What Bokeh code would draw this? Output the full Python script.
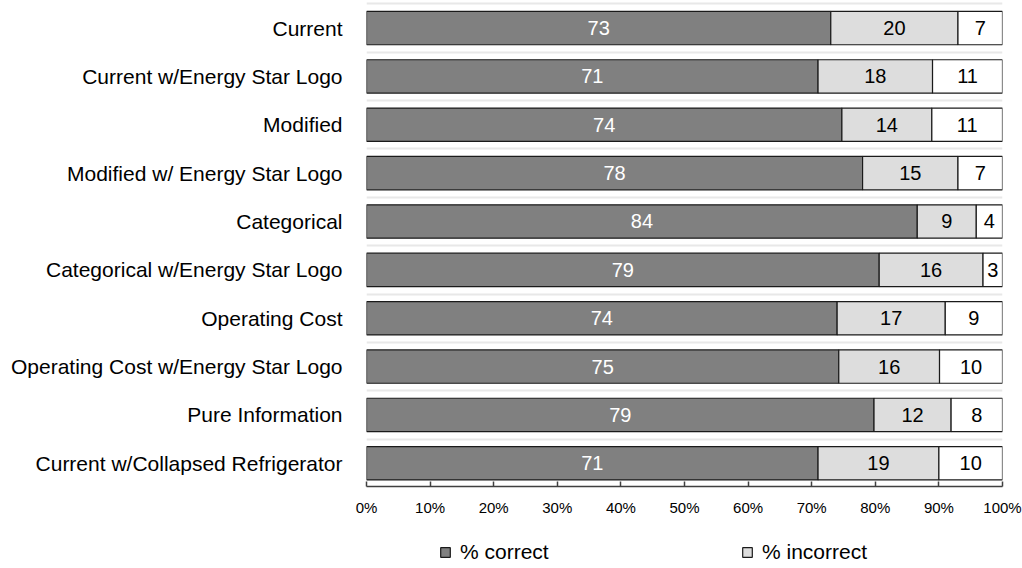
from bokeh.plotting import figure
from bokeh.layouts import column
from bokeh.models import (Range1d, FixedTicker, NumeralTickFormatter, Legend, LegendItem,
                          ColumnDataSource)
from bokeh.core.properties import value
from bokeh.embed import file_html
from bokeh.resources import INLINE

categories = [
    "Current",
    "Current w/Energy Star Logo",
    "Modified",
    "Modified w/ Energy Star Logo",
    "Categorical",
    "Categorical w/Energy Star Logo",
    "Operating Cost",
    "Operating Cost w/Energy Star Logo",
    "Pure Information",
    "Current w/Collapsed Refrigerator",
]
pct_correct = [73, 71, 74, 78, 84, 79, 74, 75, 79, 71]
pct_incorrect = [20, 18, 14, 15, 9, 16, 17, 16, 12, 19]
pct_other = [7, 11, 11, 7, 4, 3, 9, 10, 8, 10]
x_ticks = [i / 10 for i in range(11)]
legend_labels = ["% correct", "% incorrect"]

FONT = "Liberation Sans"
C_DARK, C_LIGHT, C_WHITE = "#808080", "#dddddd", "#ffffff"
EDGE = "#1a1a1a"

ys = list(range(len(categories)))
totals = [a + b + c for a, b, c in zip(pct_correct, pct_incorrect, pct_other)]
c_r = [a / t for a, t in zip(pct_correct, totals)]
i_r = [(a + b) / t for a, b, t in zip(pct_correct, pct_incorrect, totals)]
o_r = [1.0 for _ in totals]

src = ColumnDataSource(dict(
    y=ys, c_l=[0.0] * len(ys), c_r=c_r, i_l=c_r, i_r=i_r, o_l=i_r, o_r=o_r,
    c_mid=[r / 2 for r in c_r],
    i_mid=[(a + b) / 2 for a, b in zip(c_r, i_r)],
    o_mid=[(a + b) / 2 for a, b in zip(i_r, o_r)],
    c_txt=[str(v) for v in pct_correct],
    i_txt=[str(v) for v in pct_incorrect],
    o_txt=[str(v) for v in pct_other],
))

W = 1022
LEFT, RIGHT = 366, 20
p = figure(width=W, height=520, output_backend="svg", toolbar_location=None,
           x_range=Range1d(0, 1), y_range=Range1d(9.48, -0.57),
           min_border_left=LEFT, min_border_right=RIGHT, min_border_top=0, min_border_bottom=34)
p.outline_line_color = None
p.background_fill_color = "white"
p.border_fill_color = "white"

H = 0.69
r_c = p.hbar(y="y", left="c_l", right="c_r", height=H, source=src,
             fill_color=C_DARK, line_color=EDGE, line_width=1.2)
r_i = p.hbar(y="y", left="i_l", right="i_r", height=H, source=src,
             fill_color=C_LIGHT, line_color=EDGE, line_width=1.2)
r_o = p.hbar(y="y", left="o_l", right="o_r", height=H, source=src,
             fill_color=C_WHITE, line_color=EDGE, line_width=1.2)

for xcol, tcol, col in [("c_mid", "c_txt", "white"), ("i_mid", "i_txt", "black"), ("o_mid", "o_txt", "black")]:
    p.text(x=xcol, y="y", text=tcol, source=src, text_align="center", text_baseline="middle",
           text_font=value(FONT), text_font_size="20px", text_color=col)

# x axis
p.xaxis.ticker = FixedTicker(ticks=x_ticks)
p.xaxis.formatter = NumeralTickFormatter(format="0%")
p.xaxis.major_tick_in = 5
p.xaxis.major_tick_out = 0
p.xaxis.minor_tick_line_color = None
p.xaxis.axis_line_color = "#404040"
p.xaxis.axis_line_width = 1.5
p.xaxis.major_tick_line_color = "#404040"
p.xaxis.major_tick_line_width = 1.5
p.xaxis.major_label_text_font = FONT
p.xaxis.major_label_text_font_size = "15px"
p.xaxis.major_label_text_color = "black"
p.xaxis.major_label_standoff = 12

# y axis
p.yaxis.ticker = FixedTicker(ticks=ys)
p.yaxis.major_label_overrides = {i: c for i, c in enumerate(categories)}
p.yaxis.axis_line_color = None
p.yaxis.major_tick_line_color = None
p.yaxis.minor_tick_line_color = None
p.yaxis.major_label_text_font = FONT
p.yaxis.major_label_text_font_size = "21px"
p.yaxis.major_label_text_color = "black"
p.yaxis.major_label_standoff = 18

p.xgrid.grid_line_color = None
p.ygrid.ticker = FixedTicker(ticks=[i + 0.5 for i in range(-1, len(categories) - 1)])
p.ygrid.grid_line_color = "#e8e8e8"
p.ygrid.grid_line_width = 2

# legend strip (its frame is aligned with the main plot's frame)
p2 = figure(width=W, height=46, output_backend="svg", toolbar_location=None,
            x_range=Range1d(0, 1), y_range=Range1d(100, 101),
            x_axis_type=None, y_axis_type=None, min_border=0,
            min_border_left=LEFT, min_border_right=RIGHT)
p2.outline_line_color = None
p2.grid.visible = False
lg_c = p2.hbar(y="y", left="c_l", right="c_r", height=H, source=src,
               fill_color=C_DARK, line_color=EDGE, line_width=1.2)
lg_i = p2.hbar(y="y", left="i_l", right="i_r", height=H, source=src,
               fill_color=C_LIGHT, line_color=EDGE, line_width=1.2)

for rend, lab, xloc in [(lg_c, legend_labels[0], 439 - LEFT), (lg_i, legend_labels[1], 741 - LEFT)]:
    lg = Legend(items=[LegendItem(label=lab, renderers=[rend])],
                location=(xloc, 2), padding=0, margin=0,
                label_text_font=FONT, label_text_font_size="21px", label_text_color="black",
                glyph_width=12, glyph_height=12, label_standoff=9,
                label_height=20,
                border_line_color=None, background_fill_alpha=0)
    p2.add_layout(lg)

layout = column(p, p2, spacing=0)
open("out.html", "w").write(file_html(layout, INLINE))
